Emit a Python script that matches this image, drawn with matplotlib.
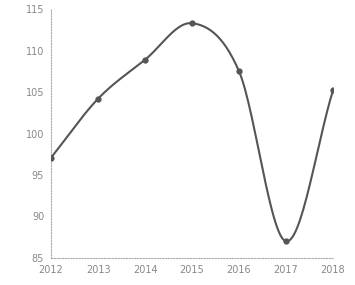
import matplotlib
matplotlib.use("Agg")
import matplotlib.pyplot as plt
import numpy as np

years = [2012, 2013, 2014, 2015, 2016, 2017, 2018]
values = [97.1, 104.2, 108.9, 113.3, 107.5, 87.0, 105.2]
yticks = [85, 90, 95, 100, 105, 110, 115]


def catmull_rom(x, y, n=30):
    x = np.asarray(x, float)
    y = np.asarray(y, float)
    px = np.concatenate([[2 * x[0] - x[1]], x, [2 * x[-1] - x[-2]]])
    py = np.concatenate([[2 * y[0] - y[1]], y, [2 * y[-1] - y[-2]]])
    xs, ys = [], []
    for i in range(1, len(px) - 2):
        t = np.linspace(0, 1, n, endpoint=False)
        for arr, out in ((px, xs), (py, ys)):
            p0, p1, p2, p3 = arr[i - 1], arr[i], arr[i + 1], arr[i + 2]
            out.extend(0.5 * ((2 * p1) + (-p0 + p2) * t
                              + (2 * p0 - 5 * p1 + 4 * p2 - p3) * t ** 2
                              + (-p0 + 3 * p1 - 3 * p2 + p3) * t ** 3))
    xs.append(x[-1])
    ys.append(y[-1])
    return np.array(xs), np.array(ys)


fig = plt.figure(figsize=(3.55, 2.85), dpi=100)
ax = fig.add_axes([0.144, 0.095, 0.794, 0.873])

sx, sy = catmull_rom(years, values)
ax.plot(sx, sy, color="#555555", lw=1.5, zorder=3)
ax.plot(years, values, "o", color="#555555", ms=3.5, zorder=4)

ax.set_xlim(2012, 2018)
ax.set_ylim(85, 115)
ax.set_xticks(years)
ax.set_xticklabels([str(y) for y in years])
ax.set_yticks(yticks)
ax.tick_params(length=0, labelsize=7, colors="#888888", pad=5)
for s in ["top", "right"]:
    ax.spines[s].set_visible(False)
for s in ["left", "bottom"]:
    ax.spines[s].set_linestyle((0, (1, 1.5)))
    ax.spines[s].set_color("#aaaaaa")
    ax.spines[s].set_linewidth(0.8)

fig.savefig("out.png", dpi=100)
